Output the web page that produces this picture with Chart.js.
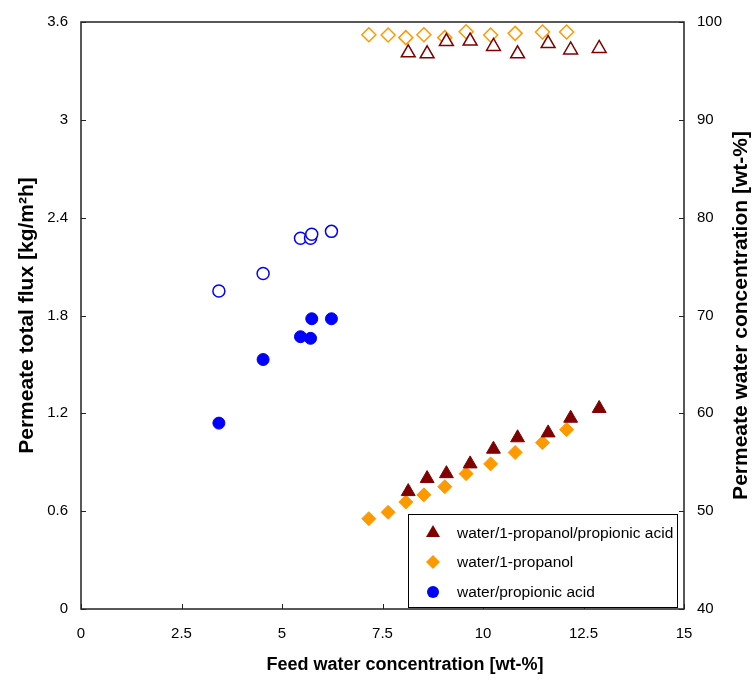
<!DOCTYPE html>
<html>
<head>
<meta charset="utf-8">
<script src="https://cdn.jsdelivr.net/npm/chart.js@4/dist/chart.umd.min.js"></script>
<style>
  html, body { margin: 0; padding: 0; background: #fff; }
  #fluxChart { display: block; }
</style>
</head>
<body>
<canvas id="fluxChart" width="753" height="682"></canvas>
<script>
// feed water concentration [wt-%] per system
const feedTernary  = [8.14, 8.61, 9.09, 9.68, 10.26, 10.86, 11.62, 12.18, 12.89];
const fluxTernary  = [0.72, 0.80, 0.83, 0.89, 0.98, 1.05, 1.08, 1.17, 1.23];
const waterTernary = [96.85, 96.75, 98.0, 98.05, 97.5, 96.75, 97.8, 97.15, 97.3];

const feedPropanol  = [7.16, 7.64, 8.08, 8.53, 9.05, 9.58, 10.19, 10.80, 11.48, 12.08];
const fluxPropanol  = [0.554, 0.593, 0.656, 0.70, 0.75, 0.83, 0.89, 0.96, 1.02, 1.10];
const waterPropanol = [98.7, 98.67, 98.4, 98.7, 98.4, 99.0, 98.67, 98.84, 98.98, 98.98];

const feedAcid  = [3.43, 4.53, 5.46, 5.71, 5.74, 6.23];
const fluxAcid  = [1.14, 1.53, 1.67, 1.66, 1.78, 1.78];
const waterAcid = [72.5, 74.3, 77.9, 77.9, 78.3, 78.6];

const legendLabels = ['water/1-propanol/propionic acid', 'water/1-propanol', 'water/propionic acid'];

const DARKRED = '#800000';
const ORANGE = '#ff9900';
const BLUE = '#0000ff';
const FONT = '"Liberation Sans", Arial, sans-serif';

const pts = (xs, ys) => xs.map((x, i) => ({ x: x, y: ys[i] }));
const plain = v => String(Number(v.toFixed(2)));

// box round the plot, inward tick marks, axis titles and the legend
const frame = {
  id: 'frame',
  afterDraw(chart) {
    const ctx = chart.ctx;
    const a = chart.chartArea;
    ctx.save();
    ctx.strokeStyle = '#222';
    ctx.lineWidth = 1.5;
    ctx.strokeRect(a.left, a.top, a.right - a.left, a.bottom - a.top);

    ctx.lineWidth = 1;
    ctx.beginPath();
    chart.scales.x.ticks.forEach(t => {
      const px = Math.round(chart.scales.x.getPixelForValue(t.value)) + 0.5;
      ctx.moveTo(px, a.bottom); ctx.lineTo(px, a.bottom - 5);
    });
    chart.scales.y.ticks.forEach(t => {
      const py = Math.round(chart.scales.y.getPixelForValue(t.value)) + 0.5;
      ctx.moveTo(a.left, py); ctx.lineTo(a.left + 5, py);
    });
    chart.scales.y1.ticks.forEach(t => {
      const py = Math.round(chart.scales.y1.getPixelForValue(t.value)) + 0.5;
      ctx.moveTo(a.right, py); ctx.lineTo(a.right - 5, py);
    });
    ctx.stroke();

    ctx.fillStyle = '#000';
    ctx.textAlign = 'center';
    ctx.textBaseline = 'middle';

    // x title, a little right of centre as in the original
    ctx.font = 'bold 18px ' + FONT;
    ctx.fillText('Feed water concentration [wt-%]', 405, 665);

    // vertical axis titles, both reading bottom to top
    const midY = (a.top + a.bottom) / 2;
    [[27, 'Permeate total flux [kg/m²h]'], [741, 'Permeate water concentration [wt-%]']].forEach(([tx, txt]) => {
      ctx.save();
      ctx.translate(tx, midY);
      ctx.rotate(-Math.PI / 2);
      ctx.font = 'bold 21px ' + FONT;
      ctx.fillText(txt, 0, 0);
      ctx.restore();
    });

    // legend
    const bx = 408, by = 514, bw = 269, bh = 93;
    ctx.fillStyle = '#fff';
    ctx.fillRect(bx, by, bw, bh);
    ctx.strokeStyle = '#000';
    ctx.lineWidth = 1;
    ctx.strokeRect(bx + 0.5, by + 0.5, bw, bh);

    const rows = [533, 562, 592];
    const colors = [DARKRED, ORANGE, BLUE];
    rows.forEach((ry, i) => {
      const mx = 433;
      ctx.fillStyle = colors[i];
      ctx.beginPath();
      if (i === 0) {
        ctx.moveTo(mx, ry - 8);
        ctx.lineTo(mx + 7, ry + 4);
        ctx.lineTo(mx - 7, ry + 4);
      } else if (i === 1) {
        ctx.moveTo(mx, ry - 7);
        ctx.lineTo(mx + 7, ry);
        ctx.lineTo(mx, ry + 7);
        ctx.lineTo(mx - 7, ry);
      } else {
        ctx.arc(mx, ry, 6, 0, Math.PI * 2);
      }
      ctx.closePath();
      ctx.fill();
      ctx.fillStyle = '#000';
      ctx.font = '15.5px ' + FONT;
      ctx.textAlign = 'left';
      ctx.textBaseline = 'middle';
      ctx.fillText(legendLabels[i], 457, ry + 1);
    });
    ctx.restore();
  }
};

const tickFont = { family: FONT, size: 15 };

new Chart(document.getElementById('fluxChart'), {
  type: 'scatter',
  data: {
    datasets: [
      {
        label: legendLabels[0],
        data: pts(feedTernary, fluxTernary),
        yAxisID: 'y',
        pointStyle: 'triangle',
        pointRadius: 8,
        backgroundColor: DARKRED,
        borderColor: DARKRED,
        borderWidth: 1
      },
      {
        label: legendLabels[0] + ' (water)',
        data: pts(feedTernary, waterTernary),
        yAxisID: 'y1',
        pointStyle: 'triangle',
        pointRadius: 8,
        backgroundColor: '#fff',
        borderColor: DARKRED,
        borderWidth: 1.5
      },
      {
        label: legendLabels[1],
        data: pts(feedPropanol, fluxPropanol),
        yAxisID: 'y',
        pointStyle: 'rectRot',
        pointRadius: 7,
        backgroundColor: ORANGE,
        borderColor: ORANGE,
        borderWidth: 1
      },
      {
        label: legendLabels[1] + ' (water)',
        data: pts(feedPropanol, waterPropanol),
        yAxisID: 'y1',
        pointStyle: 'rectRot',
        pointRadius: 7,
        backgroundColor: '#fff',
        borderColor: ORANGE,
        borderWidth: 1.5
      },
      {
        label: legendLabels[2],
        data: pts(feedAcid, fluxAcid),
        yAxisID: 'y',
        pointStyle: 'circle',
        pointRadius: 6,
        backgroundColor: BLUE,
        borderColor: BLUE,
        borderWidth: 1
      },
      {
        label: legendLabels[2] + ' (water)',
        data: pts(feedAcid, waterAcid),
        yAxisID: 'y1',
        pointStyle: 'circle',
        pointRadius: 6,
        backgroundColor: '#fff',
        borderColor: BLUE,
        borderWidth: 1.5
      }
    ]
  },
  options: {
    responsive: false,
    animation: false,
    layout: { padding: { top: 16, left: 0, right: 0, bottom: 0 } },
    plugins: {
      legend: { display: false },
      tooltip: { enabled: false }
    },
    scales: {
      x: {
        type: 'linear',
        min: 0,
        max: 15,
        afterFit: s => { s.height = 73; },
        grid: { display: false, drawTicks: false },
        border: { display: false },
        ticks: { stepSize: 2.5, padding: 16, color: '#000', font: tickFont, maxRotation: 0, callback: plain }
      },
      y: {
        type: 'linear',
        position: 'left',
        min: 0,
        max: 3.6,
        afterFit: s => { s.width = 81; },
        grid: { display: false, drawTicks: false },
        border: { display: false },
        ticks: { stepSize: 0.6, padding: 13, color: '#000', font: tickFont, callback: plain }
      },
      y1: {
        type: 'linear',
        position: 'right',
        min: 40,
        max: 100,
        afterFit: s => { s.width = 69; },
        grid: { display: false, drawTicks: false },
        border: { display: false },
        ticks: { stepSize: 10, padding: 13, color: '#000', font: tickFont, callback: plain }
      }
    }
  },
  plugins: [frame]
});
</script>
</body>
</html>
